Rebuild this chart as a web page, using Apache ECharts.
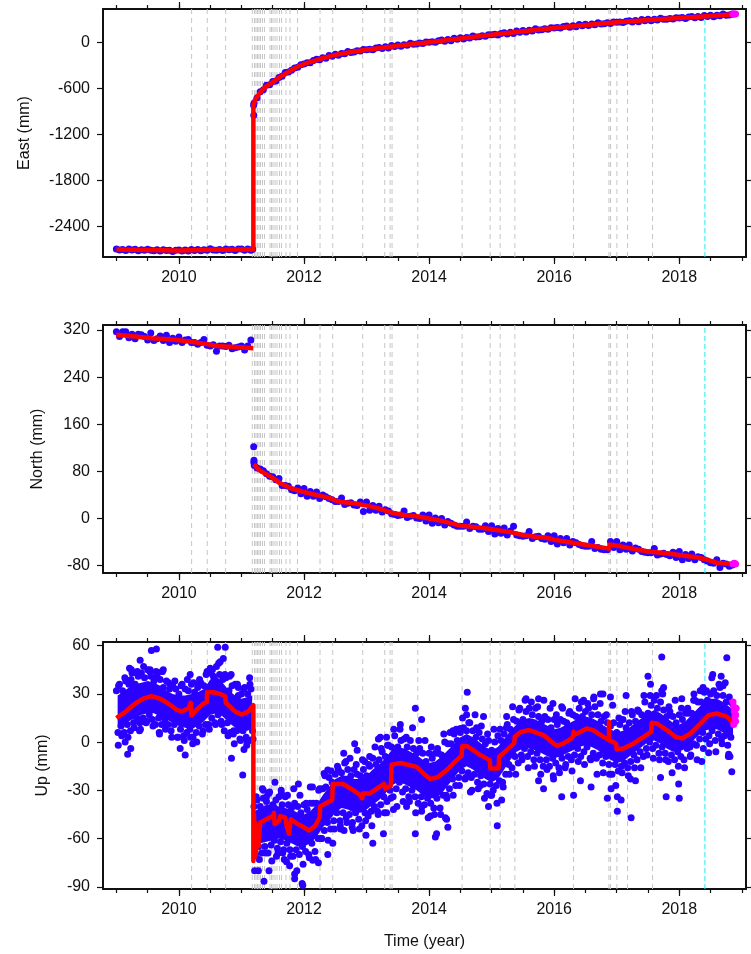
<!DOCTYPE html>
<html><head><meta charset="utf-8">
<script src="https://cdn.jsdelivr.net/npm/echarts@6/dist/echarts.min.js"></script>
<style>html,body{margin:0;padding:0;background:#fff}#c{width:751px;height:954px}</style>
</head><body><div id="c"></div>
<script>
// ---------------- DATA ----------------
const halfYearTicks = [2009,2009.5,2010,2010.5,2011,2011.5,2012,2012.5,2013,2013.5,2014,2014.5,2015,2015.5,2016,2016.5,2017,2017.5,2018,2018.5,2019];
const yearLabels = [2010,2012,2014,2016,2018];
const eastTicks = [-2400,-1800,-1200,-600,0];
const northTicks = [-80,0,80,160,240,320];
const upTicks = [-90,-60,-30,0,30,60];

// event (earthquake) epochs drawn as grey dashed lines, and the cyan epoch
const eventYears = [2010.203,2010.453,2010.747,2011.173,2011.208,2011.232,2011.256,2011.28,2011.304,2011.336,2011.368,2011.456,2011.48,2011.504,2011.536,2011.568,2011.608,2011.64,2011.712,2011.776,2011.896,2012.256,2012.459,2012.939,2013.291,2013.376,2013.408,2013.819,2014.528,2014.976,2015.136,2015.371,2016.309,2016.875,2016.901,2017.003,2017.173,2017.573];
const cyanYears = [2018.41];

// observation epochs: pre-quake series start 2009.00, post-quake series start 2011.20, every 0.05 yr
const preStart = 2009.0, postStart = 2011.2, obsStep = 0.05;

const eastPre = [-2690,-2703,-2695,-2709,-2690,-2703,-2694,-2712,-2701,-2706,
-2692,-2706,-2714,-2700,-2717,-2699,-2708,-2705,-2722,-2705,
-2704,-2717,-2704,-2717,-2696,-2708,-2695,-2713,-2701,-2707,
-2688,-2704,-2707,-2695,-2708,-2690,-2699,-2694,-2708,-2690,
-2689,-2705,-2691,-2707];
const eastPost = [-794,-721,-645,-618,-560,-552,-510,-503,-458,-443,
-394,-388,-364,-335,-326,-293,-283,-267,-265,-237,
-221,-228,-201,-209,-173,-181,-155,-170,-145,-149,
-120,-132,-126,-110,-115,-95,-98,-90,-96,-75,
-67,-80,-59,-73,-42,-55,-35,-53,-31,-39,
-12,-27,-23,-10,-16,3,0,7,0,20,
28,14,35,21,52,39,60,42,63,56,
83,68,72,86,79,99,97,103,96,115,
123,109,129,115,146,132,153,134,156,148,
175,160,164,177,170,190,187,193,185,204,
211,196,216,201,231,216,236,217,237,229,
254,238,241,253,245,264,260,265,256,274,
280,264,283,267,296,281,300,279,299,290,
314,298,300,311,303,320,316,321,311,329,
335,319,337,321,350,334,353,333,353,344,
369,353,355,367];
const eastExtra = [[2011.18,-2694],[2011.195,-820],[2011.197,-950]];
const eastModel = [[2009.0,-2697],[2009.5,-2704],[2010.0,-2709],[2010.5,-2701],[2011.0,-2696],[2011.19,-2695],[2011.19,-815],[2011.2,-790],[2011.22,-745],[2011.25,-708],[2011.3,-650],[2011.35,-604],[2011.4,-570],[2011.5,-519],[2011.6,-461],[2011.75,-384],[2011.9,-317],[2012.0,-282],[2012.25,-218],[2012.5,-164],[2012.75,-127],[2013.0,-98],[2013.5,-45],[2014.0,0],[2014.5,50],[2015.0,97],[2015.5,143],[2016.0,187],[2016.5,226],[2017.0,260],[2017.5,290],[2018.0,316],[2018.5,343],[2018.87,365]];
const eastMagenta = [[2018.86,365],[2018.88,367],[2018.9,368]];

const northPre = [317,309,317,317,307,313,305,313,312,309,
303,315,302,305,310,302,311,299,306,301,
308,299,303,304,299,299,296,299,304,294,
293,295,284,293,293,292,294,288,290,291,
293,286,293,303];
const northPost = [99,86,84,81,76,72,71,66,68,56,
56,55,49,47,52,42,51,38,46,38,
45,34,40,37,34,32,29,29,35,24,
26,27,23,22,28,12,28,14,22,14,
21,11,15,13,8,7,5,6,13,2,
4,5,1,0,6,-4,6,-8,1,-7,
0,-11,-5,-8,-11,-13,-13,-13,-6,-17,
-13,-14,-18,-18,-12,-22,-12,-26,-17,-25,
-16,-28,-21,-13,-28,-29,-30,-29,-22,-34,
-31,-30,-34,-35,-29,-39,-29,-43,-34,-41,
-34,-45,-39,-41,-44,-46,-47,-47,-39,-51,
-49,-52,-53,-53,-39,-49,-39,-53,-45,-52,
-45,-55,-50,-52,-56,-57,-58,-58,-51,-62,
-60,-59,-61,-63,-57,-66,-56,-70,-61,-68,
-60,-70,-65,-66,-70,-72,-75,-76,-70,-83,
-76,-77,-81,-79];
const northExtra = [[2011.195,122],[2011.198,95],[2011.205,90]];
const northModel = [[2009.0,312],[2009.3,309],[2009.56,306],[2009.9,304],[2010.2,300],[2010.45,296],[2010.6,293],[2010.9,291],[2011.19,289],[2011.19,'-'],[2011.2,92],[2011.25,86],[2011.3,81],[2011.4,75],[2011.5,69],[2011.6,61],[2011.7,56],[2011.8,51],[2011.9,48],[2012.0,45],[2012.2,40],[2012.4,35],[2012.5,31],[2012.6,28],[2012.8,26],[2013.0,22],[2013.2,17],[2013.4,10],[2013.6,6],[2013.8,4],[2014.0,0],[2014.2,-4],[2014.5,-12],[2014.8,-15],[2015.0,-18],[2015.3,-23],[2015.5,-28],[2015.7,-31],[2015.9,-33],[2016.0,-36],[2016.3,-41],[2016.6,-46],[2016.88,-51],[2016.885,-44],[2017.0,-46],[2017.3,-52],[2017.5,-56],[2017.8,-59],[2018.0,-62],[2018.3,-66],[2018.45,-70],[2018.6,-75],[2018.87,-77]];
const northMagenta = [[2018.86,-77],[2018.88,-76],[2018.9,-77]];

// Up: dense core of the cloud (envelope), edge points, outer points and outlying points
const upCorePreYears = [2009.02,2009.1,2009.2,2009.3,2009.4,2009.5,2009.6,2009.7,2009.8,2009.9,2010.0,2010.1,2010.2,2010.3,2010.4,2010.5,2010.6,2010.7,2010.8,2010.9,2011.0,2011.1,2011.17];
const upCorePreLow = [9,11,13,15,17,18,18,16,14,12,10,9,8,10,13,17,18,16,12,9,7,7,9];
const upCorePreHigh = [29,31,34,36,37,38,37,35,32,30,29,29,30,31,33,39,41,37,32,29,27,28,29];
const upCorePostYears = [2011.21,2011.3,2011.4,2011.5,2011.6,2011.7,2011.8,2011.9,2012.0,2012.1,2012.2,2012.3,2012.4,2012.5,2012.6,2012.7,2012.8,2012.9,2013.0,2013.1,2013.2,2013.3,2013.4,2013.5,2013.6,2013.7,2013.8,2013.9,2014.0,2014.1,2014.2,2014.3,2014.4,2014.5,2014.6,2014.7,2014.8,2014.9,2015.0,2015.1,2015.2,2015.3,2015.4,2015.5,2015.6,2015.7,2015.8,2015.9,2016.0,2016.1,2016.2,2016.3,2016.4,2016.5,2016.6,2016.7,2016.8,2016.9,2017.0,2017.1,2017.2,2017.3,2017.4,2017.5,2017.6,2017.7,2017.8,2017.9,2018.0,2018.1,2018.2,2018.3,2018.4,2018.5,2018.6,2018.7,2018.8,2018.86];
const upCorePostLow = [-67,-63,-62,-61,-60,-61,-63,-65,-65,-63,-59,-53,-49,-44,-41,-42,-44,-44,-42,-39,-36,-32,-27,-25,-26,-28,-30,-33,-35,-35,-32,-27,-22,-17,-15,-17,-20,-23,-25,-23,-17,-11,-6,-4,-4,-5,-7,-9,-10,-9,-7,-5,-3,-2,-3,-5,-8,-11,-13,-12,-9,-6,-3,0,1,-1,-4,-6,-6,-4,0,4,7,8,8,6,3,1];
const upCorePostHigh = [-43,-41,-39,-39,-40,-41,-42,-44,-45,-43,-39,-33,-28,-23,-21,-21,-23,-23,-21,-17,-14,-10,-5,-3,-4,-6,-8,-11,-13,-12,-9,-5,-1,3,5,3,0,-3,-5,-3,2,7,11,14,15,14,12,10,8,9,11,13,15,16,15,13,10,8,6,7,9,12,15,18,20,18,15,12,11,13,17,21,25,27,27,25,22,20];
// edge points: upper at preStart/postStart + i*0.05, lower offset by 0.025
const upUpperPre = [32,36,32,38,36,43,36,41,43,40,45,41,38,41,39,34,38,33,35,33,30,36,33,32,36,31,34,37,35,44,43,41,47,42,39,40,32,35,36,29,30,34,30,33];
const upLowerPre = [6,10,6,11,7,12,15,12,15,12,17,14,11,15,11,14,11,7,11,3,8,4,6,8,3,6,10,5,11,11,15,12,17,13,7,12,6,7,7,2,7,3,1,7];
const upUpperPost = [-40,-36,-40,-35,-37,-31,-39,-36,-34,-39,
-34,-39,-41,-38,-40,-44,-39,-42,-38,-38,
-38,-29,-29,-28,-22,-25,-20,-17,-19,-13,
-17,-21,-17,-20,-21,-17,-21,-15,-10,-14,
-11,-6,-9,-2,-3,4,-3,1,2,-3,
1,-4,-7,-4,-7,-12,-7,-10,-7,-7,
-8,0,-1,-1,5,1,6,9,7,12,
7,3,6,2,-1,1,-5,0,4,1,
5,11,8,14,13,21,14,19,21,17,
21,16,13,16,14,9,14,11,14,13,
12,19,17,16,21,16,19,21,17,22,
17,13,16,12,10,12,6,11,14,9,
12,17,13,19,17,25,18,23,26,21,
25,20,16,19,16,12,17,14,18,18,
18,26,25,25,31,26,30,32,29,34,
29,25,28,24];
const upLowerPost = [-70,-65,-69,-65,-69,-64,-61,-66,-62,-67,
-63,-67,-71,-67,-70,-65,-68,-70,-63,-68,
-60,-60,-55,-50,-54,-49,-44,-49,-44,-47,
-45,-50,-44,-48,-52,-44,-46,-43,-40,-43,
-39,-34,-37,-30,-34,-29,-25,-31,-29,-34,
-30,-34,-38,-34,-39,-35,-38,-41,-35,-41,
-33,-33,-29,-23,-27,-22,-18,-23,-19,-22,
-20,-25,-21,-26,-32,-26,-30,-27,-24,-25,
-20,-14,-16,-9,-13,-8,-4,-9,-6,-11,
-7,-11,-15,-11,-15,-10,-13,-16,-10,-16,
-9,-11,-8,-4,-9,-6,-3,-10,-7,-10,
-8,-13,-9,-14,-20,-14,-18,-15,-13,-16,
-12,-8,-11,-6,-9,-4,0,-4,-2,-7,
-3,-7,-12,-8,-11,-6,-9,-11,-4,-9,
-1,-2,2,6,2,4,7,1,5,2,
4,-2,3];
// sparser outer points every 0.1 yr: upper from 2009.035 / 2011.235, lower from 2009.085 / 2011.285
const outerStep = 0.1;
const upOuterUpperPre = [35,40,39,44,47,44,44,44,37,38,35,39,37,36,42,45,49,42,42,36,33,36];
const upOuterLowerPre = [4,3,9,8,13,10,6,8,3,3,1,3,0,7,8,11,11,4,-1,1,-2,2];
const upOuterUpperPost = [-34,-29,-32,-25,-30,-33,-29,-33,-38,-28,
-30,-21,-18,-15,-7,-10,-14,-11,-14,-3,
-4,-2,8,8,3,9,1,1,-3,-4,
5,6,8,15,12,17,10,5,8,8,
9,22,20,26,25,22,26,21,17,21,
18,27,25,24,28,24,17,23,15,19,
19,20,29,29,29,30,22,26,21,21,
30,32,32,42,36,37];
const upOuterLowerPost = [-73,-69,-74,-69,-73,-71,-80,-76,-72,-73,
-60,-61,-54,-54,-50,-55,-54,-49,-52,-45,
-44,-35,-40,-37,-37,-44,-40,-47,-45,-45,
-35,-33,-27,-22,-30,-29,-35,-33,-38,-28,
-20,-20,-11,-16,-15,-20,-17,-21,-19,-14,
-18,-12,-14,-11,-20,-19,-20,-27,-19,-21,
-16,-16,-8,-10,-11,-11,-19,-15,-16,-8,
-11,-4,-1,-6,-1,-9];
const upOutliers = [[2009.38,51],[2009.56,57],[2009.64,58],[2009.21,46],[2009.24,45],[2009.32,43],[2009.37,42],[2009.54,45],[2009.75,45],[2009.73,44],
[2009.03,-2],[2009.14,0],[2009.18,-7.5],[2009.23,-4],[2009.37,7],[2009.69,5],
[2010.02,-4],[2010.1,-8],[2010.22,-1],[2010.18,42],[2010.33,39],
[2010.5,46],[2010.62,59],[2010.74,59],[2010.71,52],[2010.66,50],[2010.81,41],
[2010.84,-10],[2011.02,-20.5],[2010.87,5],[2011.09,0],[2011.04,-4.6],[2011.13,40],[2010.95,34],
[2011.21,-80],[2011.27,-80],[2011.36,-86.5],[2011.44,-80],[2011.35,-30],[2011.4,-34],
[2011.85,-82],[2011.97,-88],[2011.98,-89],[2011.85,-85],[2011.77,-77],[2012.14,-73.5],[2012.23,-75],[2012.38,-70],[2012.46,-63],
[2011.91,-26],[2012.1,-28],[2011.64,-32],[2011.51,-40],[2011.56,-71],[2011.66,-69],[2011.72,-74.5],
[2012.81,-1],[2012.85,-5],[2012.97,-12],[2013.05,-9],[2013.19,2],
[2012.64,-55],[2012.99,-58],[2013.1,-63],[2012.58,-52],[2012.77,-53],
[2012.32,-19.5],[2012.38,-17.4],[2012.67,-12],
[2013.78,-57],[2014.1,-59],[2014.12,-57],[2014.28,-48],[2014.26,-47],[2014.3,-53],[2013.88,-43],[2013.64,-40],[2014.02,-46],[2013.32,-44],[2013.43,-42],[2013.27,-57],
[2013.78,21],[2013.54,11],[2013.88,14],[2014.38,7],[2014.5,8.5],[2014.61,31],[2014.58,21],[2014.6,17],[2014.87,16],[2014.76,9],[2013.32,3],[2013.22,3],
[2015.09,-52],[2014.95,-40],[2015.16,-36],[2015.0,-33],[2014.66,-31],[2014.82,-27],
[2015.55,27],[2015.75,27],[2015.98,24],[2016.12,22],[2016.63,27],[2016.78,30],[2016.74,30],[2016.47,26],[2015.24,16],
[2015.75,-24],[2015.99,-23],[2016.12,-34],[2016.31,-33],[2016.59,-28],[2016.42,-24],[2016.85,-35],[2016.91,-29],[2015.83,-29],
[2017.01,-43],[2017.23,-47],[2017.01,-34],[2017.3,-24],[2017.22,-23],[2017.79,-34],[2018.0,-35],[2017.99,-26],[2017.7,-22],[2017.07,-36],
[2017.5,41],[2017.72,53],[2017.54,36],[2017.75,34],[2017.72,32],[2018.04,27],[2017.15,29],[2016.9,28],
[2018.76,52.5],[2018.52,40],[2018.67,41],[2018.38,34],[2018.7,35],[2018.23,26],
[2018.36,-12],[2018.84,-18.5],[2018.79,-7.5],[2018.17,-3],[2018.47,-6.6],[2018.81,-9]];
const upModel = [[2009.0,15],[2009.15,19],[2009.3,24],[2009.43,27],[2009.56,28.6],[2009.7,27],[2009.83,24],[2009.97,20],[2010.05,19],[2010.15,21],[2010.19,24.5],[2010.2,16.5],[2010.28,20],[2010.39,24],[2010.445,25],[2010.45,31],[2010.55,31],[2010.66,30],[2010.74,28.5],[2010.75,24.5],[2010.9,19],[2011.0,17.2],[2011.11,19],[2011.19,23],
[2011.19,-74],[2011.2,-45],[2011.21,-72],[2011.22,-50],[2011.23,-70],[2011.25,-52],[2011.27,-65],[2011.3,-50],[2011.4,-48],[2011.5,-46],[2011.52,-44],[2011.53,-51],[2011.6,-49],[2011.62,-46],[2011.7,-47],[2011.72,-52],[2011.75,-52],[2011.76,-57],[2011.78,-57],[2011.79,-48],[2011.9,-51],[2012.0,-53],[2012.08,-55],[2012.18,-52],[2012.25,-47],[2012.26,-40],[2012.35,-38],[2012.45,-36],[2012.46,-26],[2012.62,-26],[2012.75,-29],[2012.9,-33],[2012.93,-35],[2012.94,-32],[2013.05,-32],[2013.2,-28],[2013.28,-26],[2013.3,-29],[2013.39,-27],[2013.4,-14],[2013.55,-13],[2013.8,-15.4],[2013.91,-19.5],[2014.02,-23],[2014.15,-21.6],[2014.28,-17.4],[2014.44,-11.2],[2014.52,-8.7],[2014.53,-2.5],[2014.61,-2.5],[2014.82,-8.1],[2014.97,-11.2],[2014.98,-16.4],[2015.11,-16.4],[2015.12,-9.1],[2015.24,-5],[2015.36,-0.8],[2015.37,3.3],[2015.47,6.4],[2015.6,7.5],[2015.83,4.4],[2015.99,-0.8],[2016.04,-2.3],[2016.15,-0.8],[2016.28,2.3],[2016.3,4],[2016.31,6.4],[2016.32,4.5],[2016.52,8.5],[2016.62,7.5],[2016.79,3.3],[2016.875,1.2],[2016.876,12.5],[2016.877,1.2],[2016.92,0.5],[2016.99,-1],[2017.0,-4.6],[2017.11,-3.9],[2017.27,-0.8],[2017.43,3.3],[2017.55,6.4],[2017.56,12],[2017.64,11.6],[2017.8,7.5],[2017.94,3.3],[2018.04,2.3],[2018.18,5.4],[2018.34,11.6],[2018.47,16.8],[2018.6,17.8],[2018.76,15.8],[2018.87,11.6]];
const upMagenta = [[2018.86,25],[2018.87,22],[2018.88,19],[2018.89,16],[2018.9,13],[2018.87,11],[2018.91,21],[2018.9,17]];

// ---------------- CHART ----------------
const X_MIN = 2008.786, X_MAX = 2019.067;
const ranges = [[-2794, 433], [-92.4, 328.5], [-91.4, 62.3]];
const FONT = '"Liberation Sans", Arial, Helvetica, sans-serif';
const BLUE = '#2a00ff', RED = '#ff0000', MAGENTA = '#ff00ff', CYAN = '#20e8f4', GREY = '#c6c6c6', INK = '#111111';

function epochs(start, step, vals) {
  return vals.map((v, i) => [Math.round((start + i * step) * 10000) / 10000, v]);
}

const grids = [
  { left: 103, top: 9, width: 643, height: 248 },
  { left: 103, top: 325, width: 643, height: 248 },
  { left: 103, top: 642, width: 643, height: 247 }
];

const xAxes = [], yAxes = [];
const yInfo = [
  { name: 'East (mm)', ticks: eastTicks, gap: 70 },
  { name: 'North (mm)', ticks: northTicks, gap: 57 },
  { name: 'Up (mm)', ticks: upTicks, gap: 52 }
];
for (let g = 0; g < 3; g++) {
  ['bottom', 'top'].forEach(pos => {
    xAxes.push({
      type: 'value', gridIndex: g, position: pos, min: X_MIN, max: X_MAX,
      axisLine: { show: true, onZero: false, lineStyle: { color: INK, width: 2 } },
      axisTick: { show: true, inside: false, length: 7, customValues: yearLabels, lineStyle: { color: INK, width: 1.2 } },
      axisLabel: { show: pos === 'bottom', customValues: yearLabels, formatter: v => String(v), margin: 13, fontSize: 16, color: INK, fontFamily: FONT },
      splitLine: { show: false },
      name: (g === 2 && pos === 'bottom') ? 'Time (year)' : '',
      nameLocation: 'middle', nameGap: 45,
      nameTextStyle: { fontSize: 16, color: INK, fontFamily: FONT }
    });
    xAxes.push({
      type: 'value', gridIndex: g, position: pos, min: X_MIN, max: X_MAX,
      axisLine: { show: false, onZero: false },
      axisTick: { show: true, inside: false, length: 4, customValues: halfYearTicks, lineStyle: { color: INK, width: 1.2 } },
      axisLabel: { show: false }, splitLine: { show: false }
    });
  });
  ['left', 'right'].forEach(pos => {
    yAxes.push({
      type: 'value', gridIndex: g, position: pos, min: ranges[g][0], max: ranges[g][1],
      axisLine: { show: true, onZero: false, lineStyle: { color: INK, width: 2 } },
      axisTick: { show: true, inside: false, length: 6, customValues: yInfo[g].ticks, lineStyle: { color: INK, width: 1.2 } },
      axisLabel: { show: pos === 'left', customValues: yInfo[g].ticks, formatter: v => String(v), margin: 13, fontSize: 16, color: INK, fontFamily: FONT },
      splitLine: { show: false },
      name: pos === 'left' ? yInfo[g].name : '',
      nameLocation: 'middle', nameGap: yInfo[g].gap, nameRotate: 90,
      nameTextStyle: { fontSize: 16, color: INK, fontFamily: FONT }
    });
  });
}

function xi(g) { return g * 4; }
function yi(g) { return g * 2; }

function vlines(g, years, color, dash) {
  return {
    type: 'custom', xAxisIndex: xi(g), yAxisIndex: yi(g), z: 1, silent: true, animation: false,
    data: years.map(v => [v, ranges[g][0]]),
    renderItem: (params, api) => {
      const x = api.value(0);
      const p1 = api.coord([x, ranges[g][0]]);
      const p2 = api.coord([x, ranges[g][1]]);
      return { type: 'line', shape: { x1: p1[0], y1: p1[1], x2: p2[0], y2: p2[1] },
        style: { stroke: color, lineWidth: 1, lineDash: dash } };
    }
  };
}
function band(g, years, lo, hi) {
  return {
    type: 'custom', xAxisIndex: xi(g), yAxisIndex: yi(g), z: 2, silent: true, animation: false,
    data: [[years[0], lo[0]]],
    renderItem: (params, api) => {
      const pts = [];
      for (let i = 0; i < years.length; i++) pts.push(api.coord([years[i], hi[i]]));
      for (let i = years.length - 1; i >= 0; i--) pts.push(api.coord([years[i], lo[i]]));
      return { type: 'polygon', shape: { points: pts }, style: { fill: BLUE } };
    }
  };
}
function dots(g, data, color, z) {
  return {
    type: 'scatter', xAxisIndex: xi(g), yAxisIndex: yi(g), data: data, symbol: 'circle', symbolSize: 7,
    itemStyle: { color: color, opacity: 1 }, z: z || 3, silent: true, animation: false, progressive: 0, large: false
  };
}
function model(g, data) {
  return {
    type: 'line', xAxisIndex: xi(g), yAxisIndex: yi(g), data: data, showSymbol: false, symbol: 'none',
    lineStyle: { color: RED, width: 4.5, join: 'round' }, z: 5, silent: true, animation: false, smooth: false, connectNulls: false
  };
}

const series = [];
for (let g = 0; g < 3; g++) {
  series.push(vlines(g, eventYears, GREY, [5, 4]));
  series.push(vlines(g, cyanYears, CYAN, [5, 3]));
}
series.push(dots(0, epochs(preStart, obsStep, eastPre), BLUE));
series.push(dots(0, epochs(postStart, obsStep, eastPost), BLUE));
series.push(dots(0, eastExtra, BLUE));
series.push(model(0, eastModel));
series.push(dots(0, eastMagenta, MAGENTA, 6));

series.push(dots(1, epochs(preStart, obsStep, northPre), BLUE));
series.push(dots(1, epochs(postStart, obsStep, northPost), BLUE));
series.push(dots(1, northExtra, BLUE));
series.push(model(1, northModel));
series.push(dots(1, northMagenta, MAGENTA, 6));

series.push(band(2, upCorePreYears, upCorePreLow, upCorePreHigh));
series.push(band(2, upCorePostYears, upCorePostLow, upCorePostHigh));
series.push(dots(2, epochs(preStart, obsStep, upUpperPre), BLUE));
series.push(dots(2, epochs(preStart + 0.025, obsStep, upLowerPre), BLUE));
series.push(dots(2, epochs(postStart, obsStep, upUpperPost), BLUE));
series.push(dots(2, epochs(postStart + 0.025, obsStep, upLowerPost), BLUE));
series.push(dots(2, epochs(preStart + 0.035, outerStep, upOuterUpperPre), BLUE));
series.push(dots(2, epochs(preStart + 0.085, outerStep, upOuterLowerPre), BLUE));
series.push(dots(2, epochs(postStart + 0.035, outerStep, upOuterUpperPost), BLUE));
series.push(dots(2, epochs(postStart + 0.085, outerStep, upOuterLowerPost), BLUE));
series.push(dots(2, upOutliers, BLUE));
series.push(model(2, upModel));
series.push(dots(2, upMagenta, MAGENTA, 6));

const chart = echarts.init(document.getElementById('c'), null, { renderer: 'canvas' });
chart.setOption({
  backgroundColor: '#ffffff',
  animation: false,
  grid: grids.map(g => Object.assign({ outerBoundsMode: 'none', containLabel: false }, g)),
  xAxis: xAxes,
  yAxis: yAxes,
  series: series
});
</script></body></html>
